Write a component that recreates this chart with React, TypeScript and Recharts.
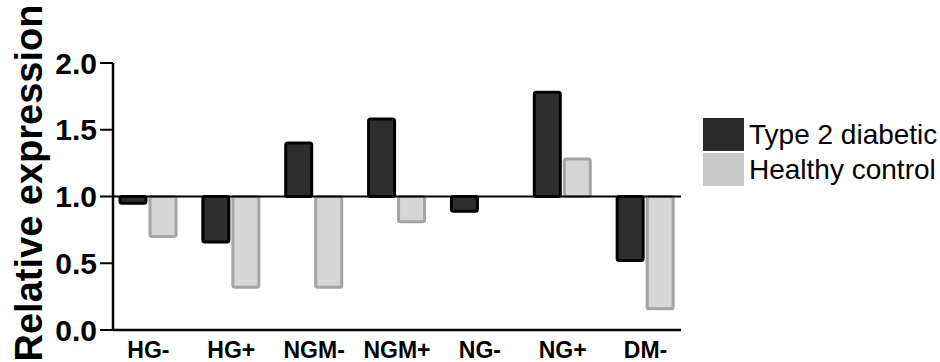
import React from 'react';
import { BarChart, Bar, XAxis, YAxis, ReferenceLine } from 'recharts';

const categories = ['HG-', 'HG+', 'NGM-', 'NGM+', 'NG-', 'NG+', 'DM-'];
const type2Diabetic = [0.95, 0.66, 1.4, 1.58, 0.89, 1.78, 0.52];
const healthyControl = [0.7, 0.32, 0.32, 0.81, 1.0, 1.28, 0.16];
const yTicks = [0, 0.5, 1, 1.5, 2];

// bars start at the 1.0 baseline
const span = (v: number): [number, number] => [Math.min(1, v), Math.max(1, v)];

const data = categories.map((name, i) => ({
  name,
  t2d: span(type2Diabetic[i]),
  hc: span(healthyControl[i]),
}));

const font = '"Liberation Sans", Arial, sans-serif';

const YLabel = () => (
  <text
    x={42}
    y={183}
    transform="rotate(-90, 42, 183)"
    textAnchor="middle"
    fontFamily={font}
    fontWeight="bold"
    fontSize={38}
    fill="#000"
  >
    Relative expression
  </text>
);

const Swatch = ({ color, label }: { color: string; label: string }) => (
  <div style={{ display: 'flex', alignItems: 'center', height: 35 }}>
    <div style={{ width: 41, height: 33, background: color, marginRight: 5 }} />
    <span style={{ fontFamily: font, fontSize: 28, color: '#000', whiteSpace: 'nowrap' }}>{label}</span>
  </div>
);

export default function App() {
  return (
    <div style={{ position: 'absolute', left: 0, top: 0, width: 940, height: 362, background: '#fff' }}>
      <BarChart
        width={940}
        height={362}
        data={data}
        margin={{ top: 63, right: 259, left: 0, bottom: 0 }}
        barSize={26}
        barGap={4}
      >
        <XAxis
          dataKey="name"
          height={32}
          padding={{ left: -6, right: -6 }}
          axisLine={{ stroke: '#000', strokeWidth: 2.5 }}
          tickLine={false}
          tickSize={0}
          tickMargin={12}
          tick={{ fill: '#000', fontFamily: font, fontWeight: 'bold', fontSize: 23 }}
          interval={0}
        />
        <YAxis
          width={113}
          domain={[0, 2]}
          ticks={yTicks}
          tickFormatter={(v: number) => v.toFixed(1)}
          axisLine={{ stroke: '#000', strokeWidth: 2.5 }}
          tickLine={{ stroke: '#000', strokeWidth: 2 }}
          tickSize={13}
          tickMargin={3}
          tick={{ fill: '#000', fontFamily: font, fontWeight: 'bold', fontSize: 30 }}
          label={<YLabel />}
        />
        <Bar
          dataKey="t2d"
          fill="#2e2e2e"
          stroke="#000"
          strokeWidth={3}
          radius={2}
          isAnimationActive={false}
        />
        <Bar
          dataKey="hc"
          fill="#d6d6d6"
          stroke="#a4a4a4"
          strokeWidth={3}
          radius={2}
          isAnimationActive={false}
        />
        <ReferenceLine y={1} stroke="#000" strokeWidth={2} ifOverflow="extendDomain" />
      </BarChart>
      <div style={{ position: 'absolute', left: 703, top: 117 }}>
        <Swatch color="#2a2a2a" label="Type 2 diabetic" />
        <Swatch color="#c9c9c9" label="Healthy control" />
      </div>
    </div>
  );
}
